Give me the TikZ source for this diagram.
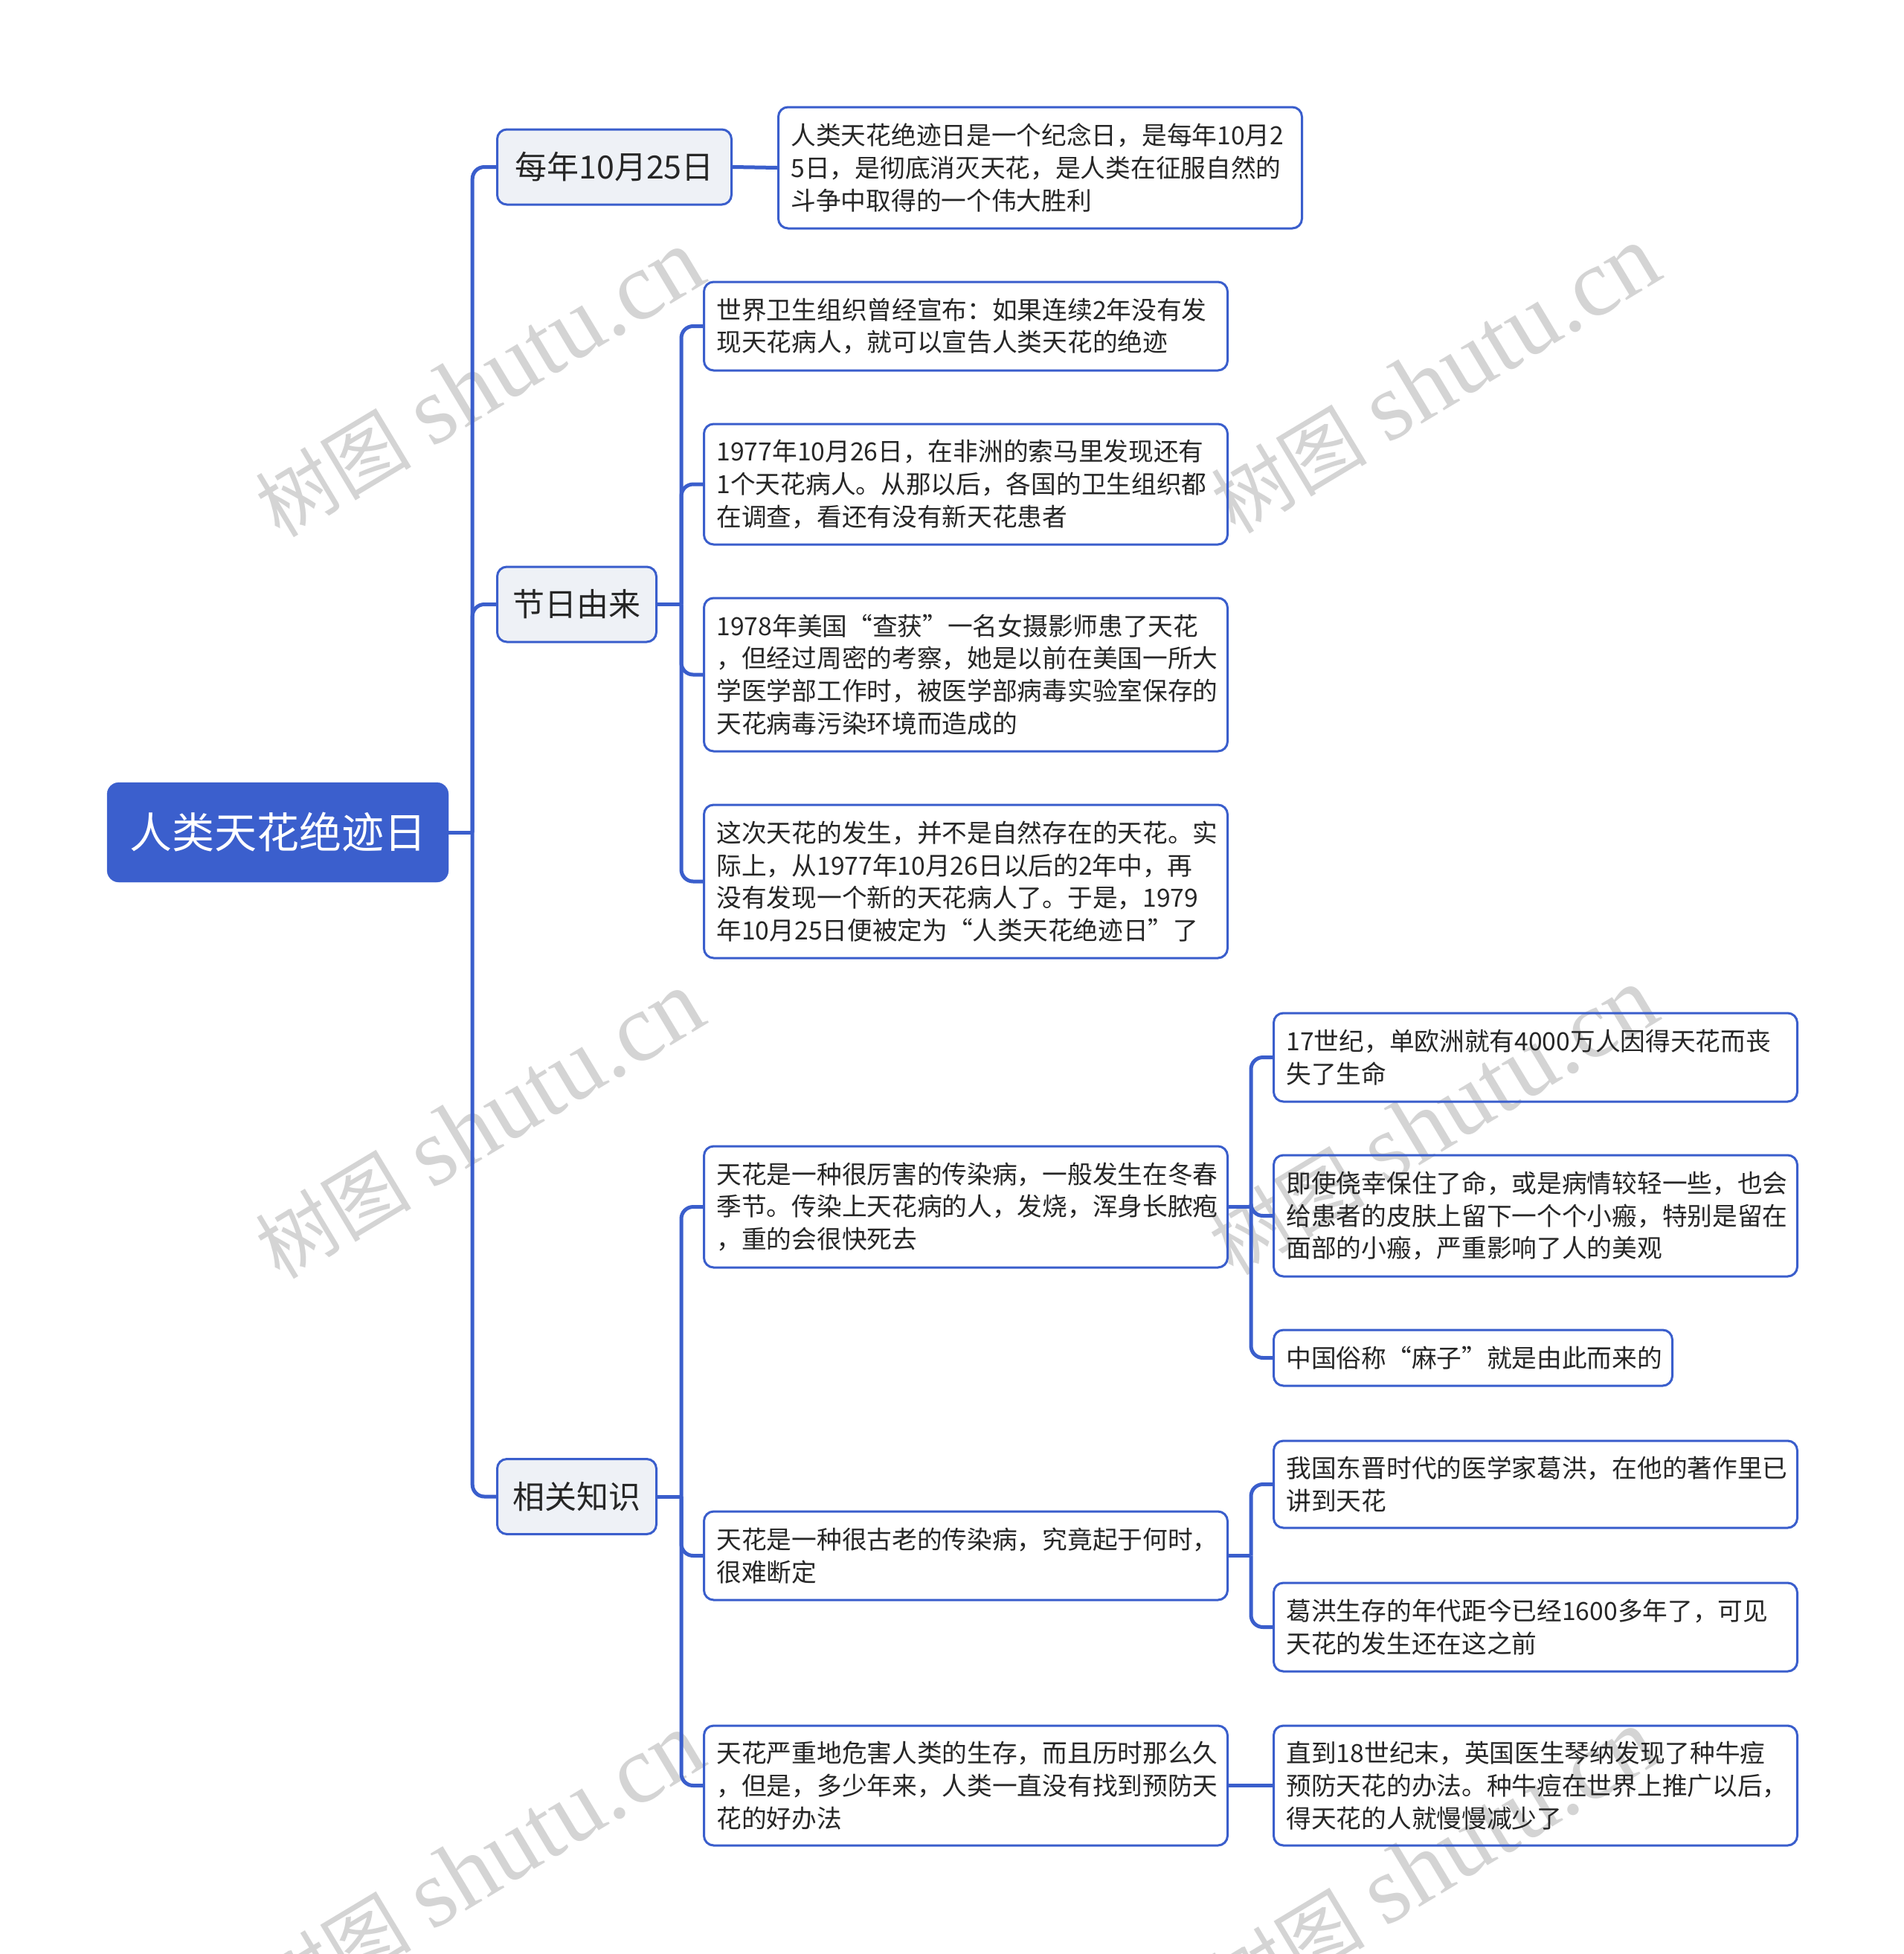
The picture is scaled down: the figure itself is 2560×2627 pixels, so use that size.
\documentclass[tikz,border=0pt]{standalone}
\usepackage{fontspec}
\setmainfont{Noto Sans CJK SC}
\newfontfamily\wmlatin{Liberation Serif}
\newfontfamily\wmcjk{Noto Sans CJK SC}
\definecolor{lineblue}{HTML}{3A5ECC}
\definecolor{rootblue}{HTML}{3B5FCD}
\definecolor{lvfill}{HTML}{EEF1F6}
\definecolor{txt}{HTML}{262626}
\definecolor{wmgray}{HTML}{D4D4D4}
\begin{document}
\begin{tikzpicture}[x=1pt,y=-1pt,
  conn/.style={draw=lineblue, line width=5pt, rounded corners=16pt},
  stub/.style={draw=lineblue, line width=5pt},
  rootbox/.style={fill=rootblue, draw=rootblue, rounded corners=16pt, text=white,
    font=\fontsize{57}{68}\selectfont, minimum width=459pt, minimum height=134pt, inner sep=0pt},
  lvone/.style={draw=lineblue, fill=lvfill, line width=3pt, rounded corners=13pt, text=txt,
    font=\fontsize{43}{52}\selectfont, anchor=west, minimum height=101pt, inner sep=0pt},
  leaf/.style={draw=lineblue, line width=3pt, rounded corners=13pt, text=txt,
    font=\fontsize{33.7}{43.8}\selectfont, anchor=west, align=left, inner xsep=17pt,
    inner ysep=0pt, text width=670pt, minimum height=#1},
  wm/.style={rotate=31, text=wmgray, inner sep=0pt},
]
\useasboundingbox (0,0) rectangle (2560,2627);

% watermarks (behind everything)
\newcommand{\wmtext}{{\wmcjk\fontsize{105}{110}\selectfont 树图}\hspace{28pt}{\wmlatin\fontsize{130}{130}\selectfont shutu.cn}}
\node[wm] (w1) at (645,516) {\wmtext};
\node[wm] (w2) at (1930,511) {\wmtext};
\node[wm] (w3) at (645,1513) {\wmtext};
\node[wm] (w4) at (1927,1508) {\wmtext};
\node[wm] (w5) at (645,2510) {\wmtext};
\node[wm] (w6) at (1927,2505) {\wmtext};

% root
\node[rootbox] (root) at (373.5,1119) {人类天花绝迹日};

% level 1
\node[lvone, minimum width=315pt] (n1) at (667,224.5) {每年10月25日};
\node[lvone, minimum width=214pt] (n2) at (667,812.5) {节日由来};
\node[lvone, minimum width=214pt] (n3) at (667,2012) {相关知识};

% level 2
\node[leaf=163pt] (n1a) at (1045,225.5) {人类天花绝迹日是一个纪念日，是每年10月2\\5日，是彻底消灭天花，是人类在征服自然的\\斗争中取得的一个伟大胜利};

\node[leaf=119pt] (a) at (945,438.5) {世界卫生组织曾经宣布：如果连续2年没有发\\现天花病人，就可以宣告人类天花的绝迹};
\node[leaf=162pt] (b) at (945,651) {1977年10月26日，在非洲的索马里发现还有\\1个天花病人。从那以后，各国的卫生组织都\\在调查，看还有没有新天花患者};
\node[leaf=206pt] (c) at (945,907) {1978年美国“查获”一名女摄影师患了天花\\，但经过周密的考察，她是以前在美国一所大\\学医学部工作时，被医学部病毒实验室保存的\\天花病毒污染环境而造成的};
\node[leaf=206pt] (d) at (945,1185) {这次天花的发生，并不是自然存在的天花。实\\际上，从1977年10月26日以后的2年中，再\\没有发现一个新的天花病人了。于是，1979\\年10月25日便被定为“人类天花绝迹日”了};

\node[leaf=163pt] (e) at (945,1622.5) {天花是一种很厉害的传染病，一般发生在冬春\\季节。传染上天花病的人，发烧，浑身长脓疱\\，重的会很快死去};
\node[leaf=119pt] (f) at (945,2091.5) {天花是一种很古老的传染病，究竟起于何时，\\很难断定};
\node[leaf=161pt] (g) at (945,2400.5) {天花严重地危害人类的生存，而且历时那么久\\，但是，多少年来，人类一直没有找到预防天\\花的好办法};

% level 3
\node[leaf=119pt] (e1) at (1711,1421.5) {17世纪，单欧洲就有4000万人因得天花而丧\\失了生命};
\node[leaf=163pt] (e2) at (1711,1634.5) {即使侥幸保住了命，或是病情较轻一些，也会\\给患者的皮肤上留下一个个小瘢，特别是留在\\面部的小瘢，严重影响了人的美观};
\node[leaf=75pt, text width=502pt] (e3) at (1711,1825.5) {中国俗称“麻子”就是由此而来的};
\node[leaf=117pt] (f1) at (1711,1995.5) {我国东晋时代的医学家葛洪，在他的著作里已\\讲到天花};
\node[leaf=119pt] (f2) at (1711,2187.5) {葛洪生存的年代距今已经1600多年了，可见\\天花的发生还在这之前};
\node[leaf=161pt] (g1) at (1711,2400.5) {直到18世纪末，英国医生琴纳发现了种牛痘\\预防天花的办法。种牛痘在世界上推广以后，\\得天花的人就慢慢减少了};

% junction points
\coordinate (j0) at ([xshift=32pt]root.east);
\coordinate (j2) at ([xshift=32pt]n2.east);
\coordinate (j3) at ([xshift=32pt]n3.east);
\coordinate (je) at ([xshift=30pt]e.east);
\coordinate (jf) at ([xshift=30pt]f.east);

% connectors
\draw[stub] (root.east) -- (j0);
\draw[conn] (j0) |- (n1.west);
\draw[conn] (j0) |- (n2.west);
\draw[conn] (j0) |- (n3.west);

\draw[stub] (n1.east) -- (n1a.west);

\draw[stub] (n2.east) -- (j2);
\draw[conn] (j2) |- (a.west);
\draw[conn] (j2) |- (b.west);
\draw[conn] (j2) |- (c.west);
\draw[conn] (j2) |- (d.west);

\draw[stub] (n3.east) -- (j3);
\draw[conn] (j3) |- (e.west);
\draw[conn] (j3) |- (f.west);
\draw[conn] (j3) |- (g.west);

\draw[stub] (e.east) -- (je);
\draw[conn] (je) |- (e1.west);
\draw[conn] (je) |- (e2.west);
\draw[conn] (je) |- (e3.west);

\draw[stub] (f.east) -- (jf);
\draw[conn] (jf) |- (f1.west);
\draw[conn] (jf) |- (f2.west);

\draw[stub] (g.east) -- (g1.west);
\end{tikzpicture}
\end{document}
